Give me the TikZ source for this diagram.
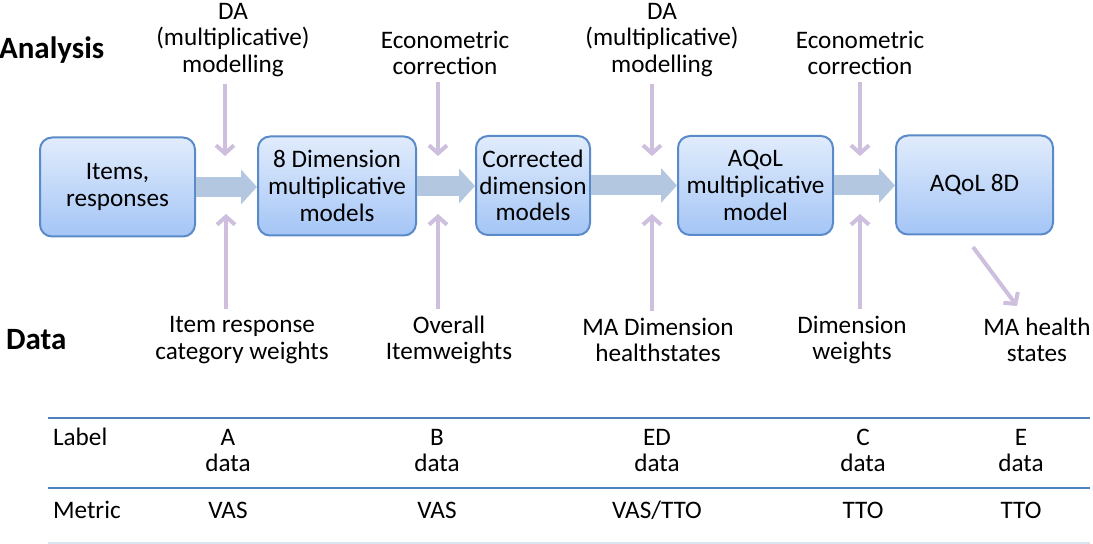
\documentclass[tikz,border=0pt]{standalone}
\usepackage{fontspec}
\setmainfont{Carlito}
\usepackage{tikz}
\usetikzlibrary{arrows.meta,positioning,calc}
\definecolor{FlowTop}{HTML}{E1ECFC}
\definecolor{FlowBot}{HTML}{A4C5F6}
\definecolor{FlowEdge}{HTML}{5A8BC8}
\definecolor{FlowPipe}{HTML}{B4C7E0}
\definecolor{FlowLilac}{HTML}{CDBFDD}
\definecolor{TabRule}{HTML}{4F81BD}
\definecolor{TabFaint}{HTML}{DBE5F1}

\begin{document}
\begin{tikzpicture}[x=0.5pt,y=-0.5pt,
    font=\fontsize{12.6}{13.3}\selectfont,
    stage/.style={draw=FlowEdge,line width=1pt,rounded corners=6pt,
      top color=FlowTop,bottom color=FlowBot,align=center,inner sep=0pt,
      minimum width=77.5pt,minimum height=49.5pt},
    pipe/.style={FlowPipe,line width=10pt,-{Triangle[length=8pt,width=17pt]}},
    feed/.style={FlowLilac,line width=2pt,-{Straight Barb[length=4pt,width=9pt]}},
    tag/.style={align=center},
    head/.style={font=\bfseries\fontsize{15.5}{16}\selectfont,anchor=west}]
  \useasboundingbox (0,0) rectangle (1093,544);
  % stages
  \node[stage] (items) at (117.5,187) {Items,\\responses};
  \node[stage,minimum width=79pt] (dimmod) at (337,186) {8 Dimension\\multiplicative\\models};
  \node[stage,minimum width=57pt] (corrdim) at (533,185.5) {Corrected\\dimension\\models};
  \node[stage] (aqolmod) at (755.5,185.5) {AQoL\\multiplicative\\model};
  \node[stage,minimum width=78.5pt] (aqol8d) at (974.5,185) {AQoL 8D};
  \draw[pipe] (items.east) -- (items.east -| dimmod.west);
  \draw[pipe] (dimmod.east) -- (dimmod.east -| corrdim.west);
  \draw[pipe] (corrdim.east) -- (corrdim.east -| aqolmod.west);
  \draw[pipe] (aqolmod.east) -- (aqolmod.east -| aqol8d.west);
  % row heads
  \node[head] (ana) at (-8,50) {Analysis};
  \node[head] (dat) at (-1,340) {Data};
  % analysis inputs
  \node[tag] (da1) at (233,40) {DA\\(multiplicative)\\modelling};
  \node[tag] (econ1) at (445,53) {Econometric\\correction};
  \node[tag] (da2) at (662,40) {DA\\(multiplicative)\\modelling};
  \node[tag] (econ2) at (860,53) {Econometric\\correction};
  \coordinate (da1in) at (225,156);
  \coordinate (econ1in) at (438,156);
  \coordinate (da2in) at (652,156);
  \coordinate (econ2in) at (860,156);
  \draw[feed] (da1in |- da1.south) -- (da1in);
  \draw[feed] (econ1in |- econ1.south) -- (econ1in);
  \draw[feed] (da2in |- da2.south) -- (da2in);
  \draw[feed] (econ2in |- econ2.south) -- (econ2in);
  % data inputs
  \node[tag] (irw) at (242,340) {Item response\\category weights};
  \node[tag] (oiw) at (449,340) {Overall\\Itemweights};
  \node[tag] (mad) at (658,340) {MA Dimension\\healthstates};
  \node[tag] (dimw) at (852,340) {Dimension\\weights};
  \node[tag] (mahs) at (1037,340) {MA health\\states};
  \coordinate (irwin) at (226,214);
  \coordinate (oiwin) at (438,214);
  \coordinate (madin) at (652,214);
  \coordinate (dimwin) at (860,214);
  \draw[feed] (irwin |- irw.north) -- (irwin);
  \draw[feed] (oiwin |- oiw.north) -- (oiwin);
  \draw[feed] (madin |- mad.north) -- (madin);
  \draw[feed] (dimwin |- dimw.north) -- (dimwin);
  \coordinate (aqolout) at (973,247);
  \coordinate (mahsin) at (1017,306);
  \draw[feed] (aqolout) -- (mahsin);
  % table
  \draw[TabRule,line width=1.2pt] (48,418) -- (1090,418);
  \draw[TabRule,line width=1.2pt] (48,488) -- (1090,488);
  \draw[TabFaint,line width=1pt] (48,543) -- (1090,543);
  \node[anchor=west] (lab) at (46,437) {Label};
  \node[anchor=west] (met) at (46,510) {Metric};
  \foreach \x/\hd/\mt [count=\i] in {228/A/VAS,437/B/VAS,657/ED/{VAS/TTO},863/C/TTO,1021/E/TTO}
    {
    \node[tag] (cell\i) at (\x,450.5) {\hd\\data};
    \node (metric\i) at (\x,510) {\mt};
    }
\end{tikzpicture}
\end{document}
